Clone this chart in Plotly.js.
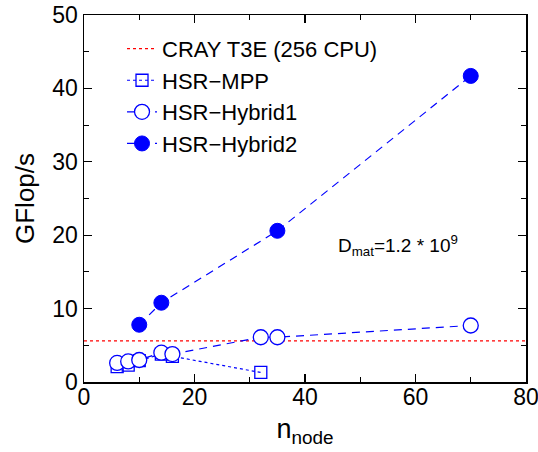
<!DOCTYPE html>
<html>
<head>
<meta charset="utf-8">
<script src="https://cdn.plot.ly/plotly-3.0.1.min.js"></script>
<style>html,body{margin:0;padding:0;background:#fff;}#chart{width:538px;height:452px;}</style>
</head>
<body>
<div id="chart"></div>
<script>
// Data
const crayX = [0, 80];
const crayY = [5.6, 5.6];

const mppX = [6, 8, 10, 14, 16, 32];
const mppY = [2.1, 2.3, 2.9, 3.8, 3.5, 1.3];

const hyb1X = [6, 8, 10, 14, 16, 32, 35, 70];
const hyb1Y = [2.6, 2.8, 3.0, 4.0, 3.8, 6.1, 6.1, 7.7];

const hyb2X = [10, 14, 35, 70];
const hyb2Y = [7.8, 10.8, 20.6, 41.7];

const seriesNames = ['CRAY T3E (256 CPU)', 'HSR\u2212MPP', 'HSR\u2212Hybrid1', 'HSR\u2212Hybrid2'];

const blue = '#0000ff';
const FONT = 'Liberation Sans, Arial, Helvetica, sans-serif';

const traces = [
  {x: crayX, y: crayY, name: seriesNames[0], mode: 'lines',
   line: {color: '#ff0000', width: 1.2, dash: 'dot'}},
  {x: mppX, y: mppY, name: seriesNames[1], mode: 'lines+markers',
   line: {color: blue, width: 1.2, dash: 'dot'},
   marker: {symbol: 'square-open', size: 12, color: blue, line: {width: 1.3, color: blue}}},
  {x: hyb1X, y: hyb1Y, name: seriesNames[2], mode: 'lines+markers',
   line: {color: blue, width: 1.2, dash: '8px,6px'},
   marker: {symbol: 'circle', size: 15, color: '#ffffff', line: {width: 1.3, color: blue}}},
  {x: hyb2X, y: hyb2Y, name: seriesNames[3], mode: 'lines+markers',
   line: {color: blue, width: 1.2, dash: '8px,6px'},
   marker: {symbol: 'circle', size: 15, color: blue, line: {width: 1, color: blue}}}
];

const axisCommon = {
  showgrid: false, zeroline: false, showline: true, linecolor: '#000', linewidth: 1.5,
  mirror: 'allticks', ticks: 'inside', ticklen: 8, tickwidth: 1.2, tickcolor: '#000',
  tickfont: {family: FONT, size: 23, color: '#000'}, ticklabeloverflow: 'allow'
};

const layout = {
  width: 538, height: 452,
  margin: {l: 84, r: 12, t: 15, b: 70},
  paper_bgcolor: '#fff', plot_bgcolor: '#fff',
  font: {family: FONT, color: '#000'},
  showlegend: true,
  legend: {x: 0.086, y: 0.965, xanchor: 'left', yanchor: 'top',
           bgcolor: 'rgba(0,0,0,0)', font: {family: FONT, size: 22, color: '#000'},
           tracegroupgap: 0, itemwidth: 30},
  xaxis: Object.assign({}, axisCommon, {
    range: [0, 80], dtick: 20, tick0: 0, ticklabelstandoff: -6,
    minor: {dtick: 10, ticks: 'inside', ticklen: 5, tickwidth: 1.2, tickcolor: '#000'},
    title: {text: 'n<sub>node</sub>', font: {family: FONT, size: 27, color: '#000'}, standoff: 10}
  }),
  yaxis: Object.assign({}, axisCommon, {
    range: [0, 50], dtick: 10, tick0: 0,
    minor: {dtick: 5, ticks: 'inside', ticklen: 5, tickwidth: 1.2, tickcolor: '#000'},
    title: {text: 'GFlop/s', font: {family: FONT, size: 26, color: '#000'}, standoff: 10}
  }),
  annotations: [{
    x: 45.7, y: 18.6, xref: 'x', yref: 'y', xanchor: 'left', yanchor: 'middle',
    showarrow: false, text: 'D<sub>mat</sub>=1.2 * 10<sup>9</sup>',
    font: {family: FONT, size: 19, color: '#000'}
  }]
};

Plotly.newPlot('chart', traces, layout, {displayModeBar: false, staticPlot: true});
</script>
</body>
</html>
